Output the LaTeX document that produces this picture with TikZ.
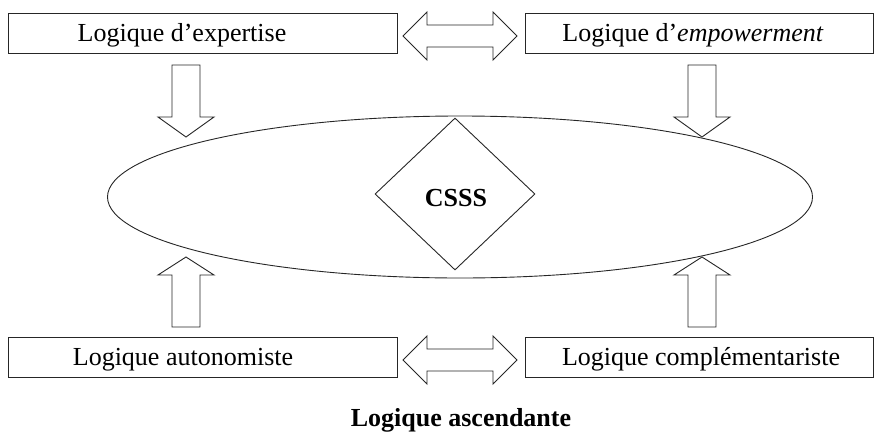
\documentclass[tikz,border=0pt]{standalone}
\usepackage{fontspec}
\setmainfont{Liberation Serif}
\usetikzlibrary{shapes.geometric}
\tikzset{
  ln/.style={line width=0.9pt, draw=black!85},
  box/.style={ln, rectangle, inner sep=0pt, minimum height=40pt},
  txt/.style={inner sep=0pt, font=\fontsize{26}{30}\selectfont},
  blk/.style={ln, fill=white, line join=miter},
}
\begin{document}
\begin{tikzpicture}[x=1pt,y=-1pt]
\useasboundingbox (0,0) rectangle (874,431);
% boxes
\node[box, minimum width=389pt] (tl) at (202.5,33) {};
\node[box, minimum width=348pt] (tr) at (699,33) {};
\node[box, minimum width=389pt] (bl) at (202.5,357) {};
\node[box, minimum width=348pt] (br) at (699,357) {};
\node[txt] (tlt) at (182,35) {Logique d’expertise};
\node[txt] (trt) at (693,35) {Logique d’\textit{empowerment}};
\node[txt] (blt) at (183,359.5) {Logique autonomiste};
\node[txt] (brt) at (701,359.5) {Logique complémentariste};
% ellipse and diamond
\node[ln, ellipse, minimum width=705pt, minimum height=162pt, inner sep=0pt] (ell) at (460,197) {};
\node[ln, diamond, minimum width=160pt, minimum height=152pt, inner sep=0pt] (csss) at (455,194) {};
\node[txt, font=\fontsize{26}{30}\selectfont\bfseries] (cssst) at (456,198) {CSSS};
% horizontal double arrows
\foreach \yc/\nm in {36/top, 360/bot}{
  \draw[blk] (403,\yc) -- (427,\yc-24) -- (427,\yc-11) -- (493,\yc-11) -- (493,\yc-24)
     -- (517,\yc) -- (493,\yc+24) -- (493,\yc+11) -- (427,\yc+11) -- (427,\yc+24) -- cycle;
}
% vertical block arrows
\foreach \xc in {186,702}{
  \draw[blk] (\xc-14,65) -- (\xc+14,65) -- (\xc+14,117) -- (\xc+28,117) -- (\xc,137)
     -- (\xc-28,117) -- (\xc-14,117) -- cycle;
  \draw[blk] (\xc-14,327) -- (\xc+14,327) -- (\xc+14,275) -- (\xc+28,275) -- (\xc,257)
     -- (\xc-28,275) -- (\xc-14,275) -- cycle;
}
% caption
\node[txt, font=\fontsize{26}{30}\selectfont\bfseries] (cap) at (461,420) {Logique ascendante};
\end{tikzpicture}
\end{document}
